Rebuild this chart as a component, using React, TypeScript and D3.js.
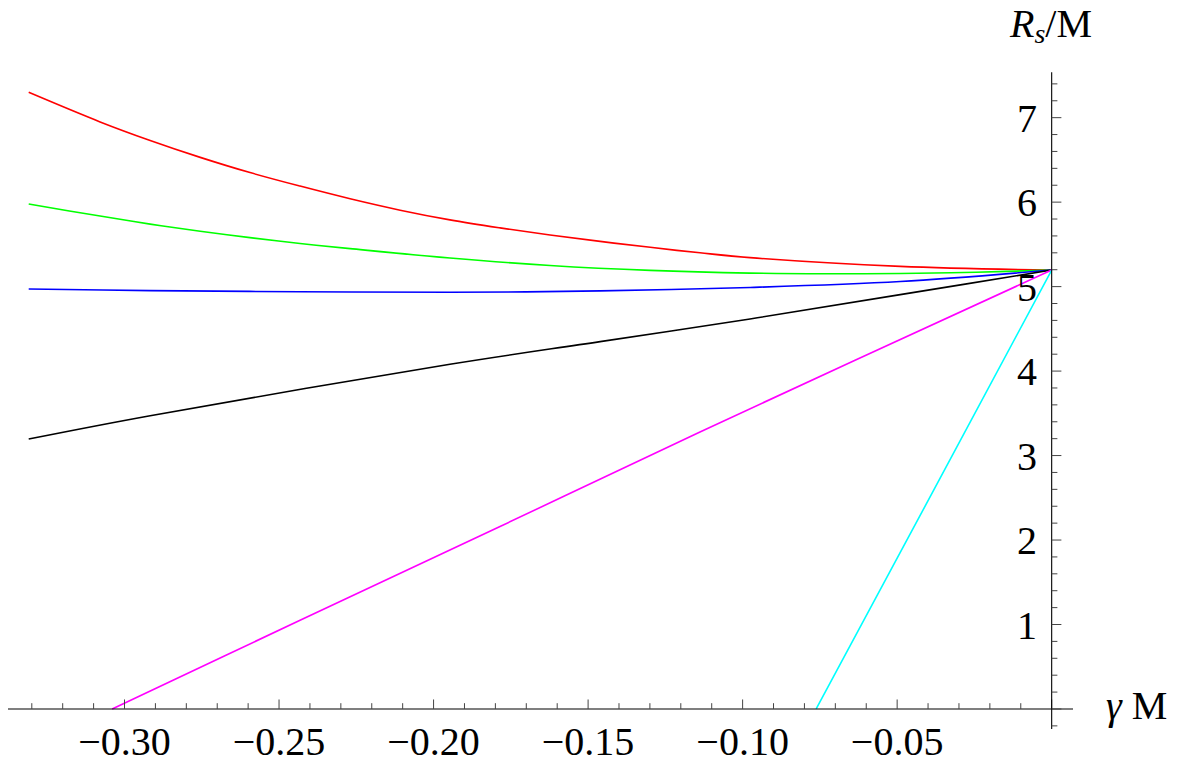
import React from "react";
import * as d3 from "d3";

// ---- data ----
const redGamma = [-0.331, -0.3079, -0.2917, -0.2755, -0.2594, -0.2432, -0.227, -0.2108, -0.1947, -0.1785, -0.1623, -0.1461, -0.1299, -0.1138, -0.0976, -0.049, 0];
const redR = [7.30, 6.95, 6.73, 6.53, 6.35, 6.19, 6.04, 5.905, 5.79, 5.695, 5.61, 5.535, 5.465, 5.40, 5.343, 5.24, 5.196];

const greenGamma = [-0.331, -0.3079, -0.2917, -0.2755, -0.2594, -0.2432, -0.227, -0.1947, -0.1623, -0.1299, -0.0976, -0.073, -0.049, -0.0245, 0];
const greenR = [5.978, 5.835, 5.74, 5.655, 5.58, 5.51, 5.45, 5.338, 5.25, 5.192, 5.16, 5.152, 5.155, 5.17, 5.196];

const blueGamma = [-0.331, -0.2917, -0.2432, -0.1947, -0.1461, -0.0976, -0.049, 0];
const blueR = [4.972, 4.952, 4.94, 4.933, 4.949, 4.99, 5.06, 5.196];

const blackGamma = [-0.331, -0.2917, -0.1947, -0.1461, -0.0976, -0.049, 0];
const blackR = [3.196, 3.472, 4.081, 4.349, 4.617, 4.905, 5.196];

const magentaGamma = [-0.304, -0.2432, -0.1785, -0.1138, 0];
const magentaR = [0, 1.05, 2.16, 3.28, 5.196];

const cyanGamma = [-0.0762, -0.0483, 0];
const cyanR = [0, 1.90, 5.196];

const xMajorTicks = [-0.3, -0.25, -0.2, -0.15, -0.1, -0.05];
const xTickLabels = ["\u22120.30", "\u22120.25", "\u22120.20", "\u22120.15", "\u22120.10", "\u22120.05"];
const yMajorTicks = [1, 2, 3, 4, 5, 6, 7];
const yTickLabels = ["1", "2", "3", "4", "5", "6", "7"];

const series = [
  { g: redGamma, r: redR, color: "#FF0000", smooth: true },
  { g: greenGamma, r: greenR, color: "#00FF00", smooth: true },
  { g: blueGamma, r: blueR, color: "#0000FF", smooth: true },
  { g: blackGamma, r: blackR, color: "#000000", smooth: true },
  { g: magentaGamma, r: magentaR, color: "#FF00FF", smooth: true },
  { g: cyanGamma, r: cyanR, color: "#00FFFF", smooth: false },
];

export default function App() {
  const W = 1183, H = 760;
  const x = d3.scaleLinear().domain([-0.3377, 0.0069]).range([8, 1073]);
  const y = d3.scaleLinear().domain([-0.237, 7.537]).range([729, 72.3]);
  const x0 = x(0), y0 = y(0);
  const font = "'Liberation Serif', 'Times New Roman', serif";

  const xMinor: number[] = d3.range(-33, 1).map((i) => i / 100);
  const yMinor: number[] = d3.range(-1, 38).map((i) => i / 5);

  return (
    <svg width={W} height={H} style={{ position: "absolute", left: 0, top: 0, background: "#fff" }}>
      {/* curves */}
      {series.map((s, i) => {
        const pts = s.g.map((g, k) => [g, s.r[k]] as [number, number]);
        const line = d3
          .line<[number, number]>()
          .x((d) => x(d[0]))
          .y((d) => y(d[1]))
          .curve(s.smooth ? d3.curveCatmullRom.alpha(0.5) : d3.curveLinear);
        return <path key={i} d={line(pts) || ""} fill="none" stroke={s.color} strokeWidth={1.6} />;
      })}

      {/* x axis */}
      <line x1={8} x2={1073} y1={y0} y2={y0} stroke="#000" strokeWidth={1.1} />
      {xMinor.map((t, i) => {
        const isMajor = Math.abs(Math.round(t * 100) % 5) === 0;
        return (
          <line key={"xm" + i} x1={x(t)} x2={x(t)} y1={y0} y2={y0 - (isMajor ? 9.5 : 5.8)} stroke="#444" strokeWidth={1} />
        );
      })}
      {xMajorTicks.map((t, i) => (
        <text key={"xl" + i} x={x(t)} y={755} textAnchor="middle" fontFamily={font} fontSize={40} fill="#000">
          {xTickLabels[i]}
        </text>
      ))}

      {/* y axis */}
      <line x1={x0} x2={x0} y1={72.3} y2={729} stroke="#000" strokeWidth={1.1} />
      {yMinor.map((t, i) => {
        const isMajor = Math.abs(Math.round(t * 5) % 5) === 0;
        return (
          <line key={"ym" + i} x1={x0} x2={x0 + (isMajor ? 9.7 : 5.7)} y1={y(t)} y2={y(t)} stroke="#444" strokeWidth={1} />
        );
      })}
      {yMajorTicks.map((t, i) => (
        <text key={"yl" + i} x={1037} y={y(t)} dy="0.35em" textAnchor="end" fontFamily={font} fontSize={40} fill="#000">
          {yTickLabels[i]}
        </text>
      ))}

      {/* axis labels */}
      <text x={1010} y={36.7} fontFamily={font} fontSize={40} fill="#000">
        <tspan fontStyle="italic">R</tspan>
        <tspan fontStyle="italic" fontSize={28} dy={6}>s</tspan>
        <tspan dy={-6}>/M</tspan>
      </text>
      <text x={1106} y={719.3} fontFamily={font} fontSize={40} fill="#000">
        <tspan fontStyle="italic">{"\u03B3"}</tspan>
        <tspan> M</tspan>
      </text>
    </svg>
  );
}
